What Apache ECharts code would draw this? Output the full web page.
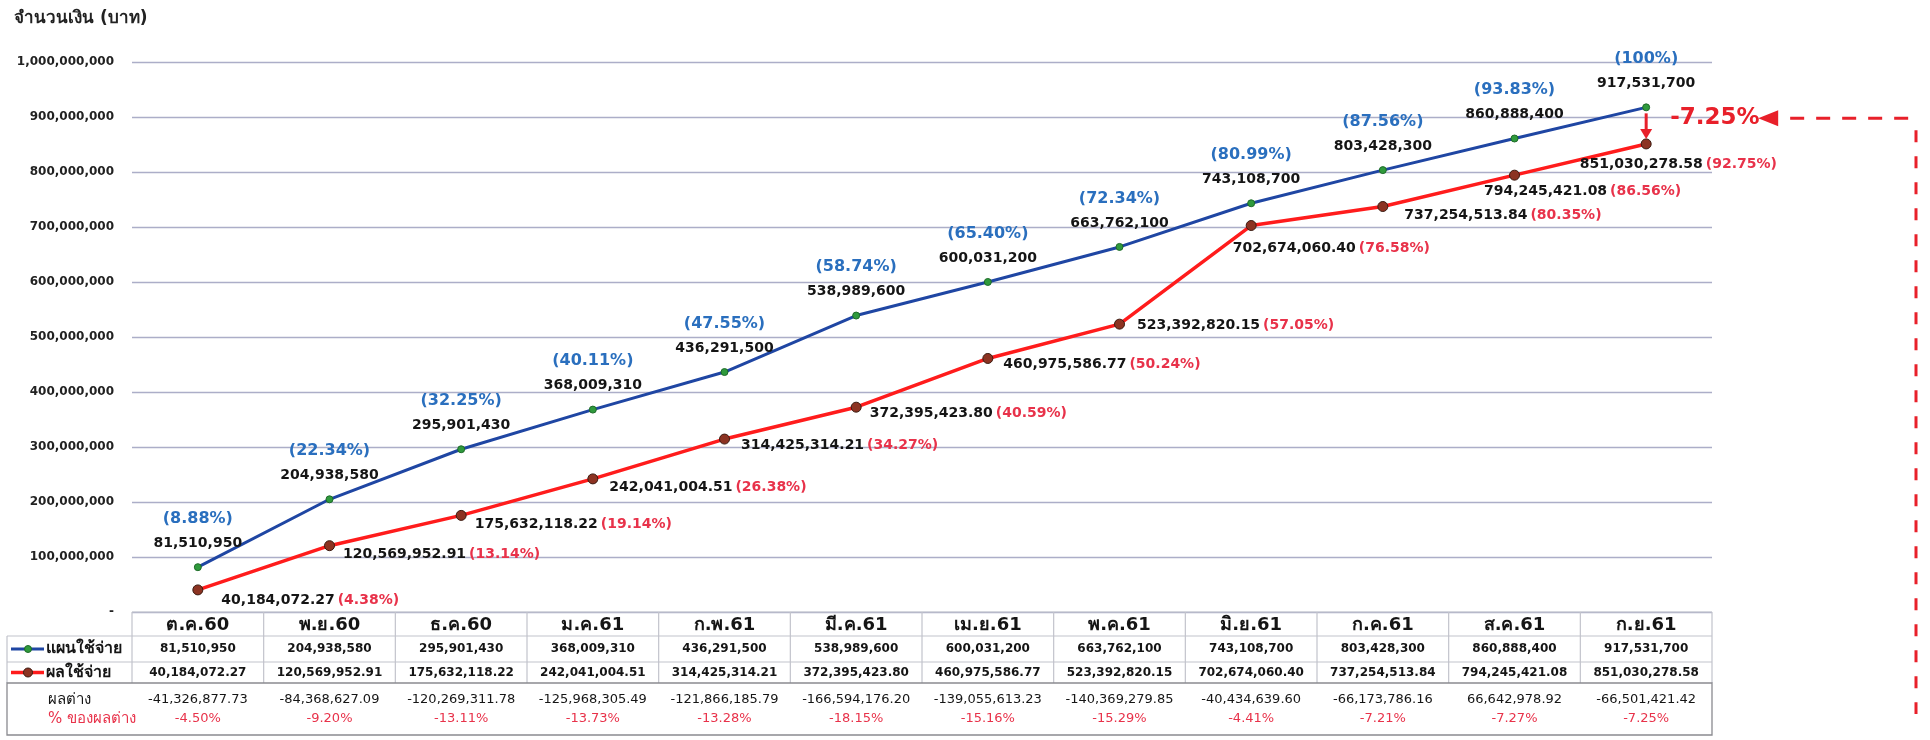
<!DOCTYPE html>
<html>
<head>
<meta charset="utf-8">
<script src="https://cdn.jsdelivr.net/npm/echarts@6/dist/echarts.min.js"></script>
<style>
  html, body { margin: 0; padding: 0; background: #fff; }
  #main { width: 1930px; height: 740px; }
</style>
</head>
<body>
<div id="main"></div>
<script>
  const months = ['ต.ค.60', 'พ.ย.60', 'ธ.ค.60', 'ม.ค.61', 'ก.พ.61', 'มี.ค.61', 'เม.ย.61', 'พ.ค.61', 'มิ.ย.61', 'ก.ค.61', 'ส.ค.61', 'ก.ย.61']
  const planValues = [81510950, 204938580, 295901430, 368009310, 436291500, 538989600, 600031200, 663762100, 743108700, 803428300, 860888400, 917531700]
  const actualValues = [40184072.27, 120569952.91, 175632118.22, 242041004.51, 314425314.21, 372395423.80, 460975586.77, 523392820.15, 702674060.40, 737254513.84, 794245421.08, 851030278.58]
  const planPct = ['8.88%', '22.34%', '32.25%', '40.11%', '47.55%', '58.74%', '65.40%', '72.34%', '80.99%', '87.56%', '93.83%', '100%']
  const actualPct = ['4.38%', '13.14%', '19.14%', '26.38%', '34.27%', '40.59%', '50.24%', '57.05%', '76.58%', '80.35%', '86.56%', '92.75%']
  const diffValues = [-41326877.73, -84368627.09, -120269311.78, -125968305.49, -121866185.79, -166594176.20, -139055613.23, -140369279.85, -40434639.60, -66173786.16, 66642978.92, -66501421.42]
  const diffPct = ['-4.50%', '-9.20%', '-13.11%', '-13.73%', '-13.28%', '-18.15%', '-15.16%', '-15.29%', '-4.41%', '-7.21%', '-7.27%', '-7.25%']
  const seriesNames = ['แผนใช้จ่าย', 'ผลใช้จ่าย']
  const diffNames = ['ผลต่าง', '% ของผลต่าง']

  // label nudges for the red series (layout only)
  const redLabelShift = [[10, 10], [0, 9], [0, 9], [3, 8], [3, 6], [0, 6], [2, 6], [4, 1], [-32, 23], [8, 9], [-44, 16], [-80, 20]]

  const FONT = 'Tahoma, "DejaVu Sans", "Noto Sans", sans-serif'
  const BLUE = '#1f46a3'
  const RED = '#ff1c1c'
  const fmt0 = v => v.toLocaleString('en-US')
  const fmt2 = v => v.toLocaleString('en-US', { minimumFractionDigits: 2, maximumFractionDigits: 2 })

  let chart = echarts.init(document.getElementById('main'))

  let option = {
    animation: false,
    title: {
      text: 'จำนวนเงิน (บาท)',
      left: 9, top: 5,
      textStyle: { fontFamily: FONT, fontSize: 17, fontWeight: 'bold', color: '#222' }
    },
    grid: { left: 132, right: 218, top: 62, bottom: 128 },
    xAxis: {
      type: 'category',
      data: months,
      boundaryGap: true,
      axisLine: { show: false },
      axisTick: { show: false },
      axisLabel: { show: false }
    },
    yAxis: {
      type: 'value',
      min: 0, max: 1000000000, interval: 100000000,
      axisLine: { show: false },
      axisTick: { show: false },
      axisLabel: {
        margin: 18,
        fontFamily: FONT, fontSize: 12, fontWeight: 'bold', color: '#222',
        formatter: v => v === 0 ? '-' : fmt0(v)
      },
      splitLine: { lineStyle: { color: '#acaec8', width: 1.3 } }
    },
    series: [
      {
        name: seriesNames[0],
        type: 'line',
        data: planValues,
        symbol: 'circle',
        symbolSize: 7,
        lineStyle: { color: BLUE, width: 3 },
        itemStyle: { color: '#2f9a3c', borderColor: '#1d6a28', borderWidth: 1 },
        z: 3,
        label: {
          show: true,
          position: 'top',
          distance: 8,
          formatter: p => '{p|(' + planPct[p.dataIndex] + ')}\n{v|' + fmt0(p.value) + '}',
          rich: {
            p: { fontFamily: FONT, fontSize: 16, fontWeight: 'bold', color: '#2a6fbe', lineHeight: 25 },
            v: { fontFamily: FONT, fontSize: 14, fontWeight: 'bold', color: '#151515', lineHeight: 24 }
          }
        }
      },
      {
        name: seriesNames[1],
        type: 'line',
        data: actualValues.map((v, i) => ({ value: v, label: { offset: redLabelShift[i] } })),
        symbol: 'circle',
        symbolSize: 10,
        lineStyle: { color: RED, width: 3.5 },
        itemStyle: { color: '#8c3322', borderColor: '#3a1a10', borderWidth: 1 },
        z: 4,
        label: {
          show: true,
          position: 'right',
          distance: 8,
          formatter: p => '{v|' + fmt2(p.value) + '}{p|(' + actualPct[p.dataIndex] + ')}',
          rich: {
            v: { fontFamily: FONT, fontSize: 14, fontWeight: 'bold', color: '#151515' },
            p: { fontFamily: FONT, fontSize: 14, fontWeight: 'bold', color: '#e8324a', padding: [0, 0, 0, 3] }
          }
        }
      }
    ]
  }
  chart.setOption(option)

  // data table under the plot, laid out on the category axis
  let cx = months.map((m, i) => chart.convertToPixel({ xAxisIndex: 0 }, i))
  let step = cx[1] - cx[0]
  let x0 = cx[0] - step / 2
  let x1 = cx[cx.length - 1] + step / 2
  let xl = 7
  let hdrTop = chart.convertToPixel({ yAxisIndex: 0 }, 0)
  let hdrBot = hdrTop + 24
  let r1Bot = hdrBot + 26
  let r2Bot = r1Bot + 21
  let boxBot = r2Bot + 52

  let g = []
  let gridLine = '#c2c3cc'
  let hline = (xa, xb, y, c, w) => g.push({ type: 'line', shape: { x1: xa, y1: y, x2: xb, y2: y }, style: { stroke: c || gridLine, lineWidth: w || 1.2 } })
  let vline = (x, ya, yb) => g.push({ type: 'line', shape: { x1: x, y1: ya, x2: x, y2: yb }, style: { stroke: gridLine, lineWidth: 1.2 } })
  let text = (str, x, y, opt) => g.push({
    type: 'text', x: x, y: y, z: 10,
    style: Object.assign({ text: str, fontFamily: FONT, fontSize: 12, fill: '#151515', align: 'center', verticalAlign: 'middle' }, opt)
  })

  hline(x0, x1, hdrTop)
  hline(xl, x1, hdrBot)
  hline(xl, x1, r1Bot)
  vline(xl, hdrBot, r2Bot)
  for (let k = 0; k <= months.length; k++) vline(x0 + k * step, hdrTop, r2Bot)
  g.push({ type: 'rect', shape: { x: xl, y: r2Bot, width: x1 - xl, height: boxBot - r2Bot }, style: { fill: 'none', stroke: '#8a8a90', lineWidth: 1.3 } })

  months.forEach((m, i) => {
    text(m, cx[i], (hdrTop + hdrBot) / 2 + 1, { fontSize: 18, fontWeight: 'bold' })
    text(fmt0(planValues[i]), cx[i], (hdrBot + r1Bot) / 2, { fontWeight: 'bold' })
    text(fmt2(actualValues[i]), cx[i], (r1Bot + r2Bot) / 2, { fontWeight: 'bold' })
    text(fmt2(diffValues[i]), cx[i], r2Bot + 17, { fontSize: 13 })
    text(diffPct[i], cx[i], r2Bot + 36, { fontSize: 13, fill: '#e8324a' })
  })

  // legend keys in the row headers
  let y1 = (hdrBot + r1Bot) / 2
  let y2 = (r1Bot + r2Bot) / 2
  hline(11, 44, y1, BLUE, 3)
  g.push({ type: 'circle', shape: { cx: 28, cy: y1, r: 3.5 }, style: { fill: '#2f9a3c', stroke: '#1d6a28' }, z: 11 })
  text(seriesNames[0], 46, y1, { fontSize: 16, fontWeight: 'bold', align: 'left' })
  hline(11, 44, y2, RED, 3.5)
  g.push({ type: 'circle', shape: { cx: 28, cy: y2, r: 4.5 }, style: { fill: '#8c3322', stroke: '#3a1a10' }, z: 11 })
  text(seriesNames[1], 46, y2, { fontSize: 16, fontWeight: 'bold', align: 'left' })
  text(diffNames[0], 48, r2Bot + 17, { fontSize: 15, align: 'left' })
  text(diffNames[1], 48, r2Bot + 36, { fontSize: 15, align: 'left', fill: '#e8324a' })

  // gap annotation at the last month
  let last = months.length - 1
  let bp = chart.convertToPixel({ seriesIndex: 0 }, [last, planValues[last]])
  let rp = chart.convertToPixel({ seriesIndex: 1 }, [last, actualValues[last]])
  let ANN = '#e8202a'
  g.push({ type: 'line', shape: { x1: bp[0], y1: bp[1] + 6, x2: bp[0], y2: rp[1] - 12 }, style: { stroke: ANN, lineWidth: 3 }, z: 12 })
  g.push({ type: 'polygon', shape: { points: [[bp[0] - 6, rp[1] - 15], [bp[0] + 6, rp[1] - 15], [bp[0], rp[1] - 5]] }, style: { fill: ANN }, z: 12 })
  let ay = bp[1] + 11
  text(diffPct[last], bp[0] + 24, ay, { fontSize: 23, fontWeight: 'bold', fill: ANN, align: 'left' })
  let tip = bp[0] + 112
  g.push({ type: 'polygon', shape: { points: [[tip, ay], [tip + 20, ay - 8], [tip + 20, ay + 8]] }, style: { fill: ANN }, z: 12 })
  g.push({ type: 'line', shape: { x1: tip + 32, y1: ay, x2: 1918, y2: ay }, style: { stroke: ANN, lineWidth: 3, lineDash: [14, 12] }, z: 12 })
  g.push({ type: 'line', shape: { x1: 1916, y1: ay + 12, x2: 1916, y2: 714 }, style: { stroke: ANN, lineWidth: 3, lineDash: [12, 14] }, z: 12 })

  chart.setOption({ graphic: g })
  window.addEventListener('resize', chart.resize)
</script>
</body>
</html>
